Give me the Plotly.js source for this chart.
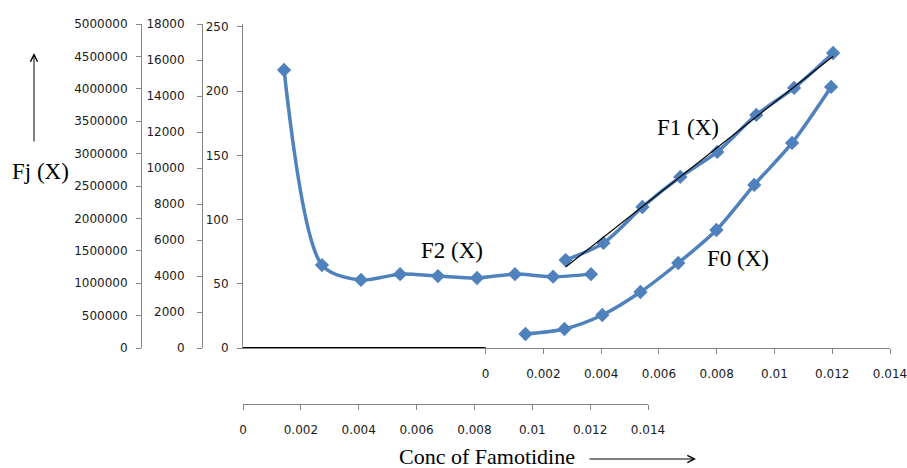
<!DOCTYPE html>
<html><head><meta charset="utf-8">
<script src="https://cdn.plot.ly/plotly-3.0.1.min.js"></script>
<style>body{margin:0;background:#fff}</style>
</head><body><div id="chart" style="width:907px;height:468px"></div>
<script>
// F0 (X) and F1 (X): upper concentration axis, 0-250 axis
const f0X = [0.00138, 0.00273, 0.00404, 0.00536, 0.00667, 0.00799, 0.0093, 0.01061, 0.01196];
const f0Y = [10.9, 14.8, 25.7, 43.6, 66.2, 91.9, 127, 159.7, 203.3];
const f1X = [0.00277, 0.00408, 0.00543, 0.00674, 0.00802, 0.00937, 0.01068, 0.01203];
const f1Y = [68.5, 81.8, 109.8, 133.2, 152.7, 181.5, 202.5, 229.7];
// F2 (X): lower concentration axis, 0-5000000 axis
const f2X = [0.00142, 0.00273, 0.00408, 0.00543, 0.00674, 0.00809, 0.0094, 0.01072, 0.01203];
const f2Y = [4290000, 1280000, 1050000, 1140000, 1110000, 1080000, 1140000, 1100000, 1140000];

const xTickVals = [0, 0.002, 0.004, 0.006, 0.008, 0.01, 0.012, 0.014];
const xTickText = ['0', '0.002', '0.004', '0.006', '0.008', '0.01', '0.012', '0.014'];
const yTicksC = [0, 50, 100, 150, 200, 250];
const yTicksB = [0, 2000, 4000, 6000, 8000, 10000, 12000, 14000, 16000, 18000];
const yTicksA = [0, 500000, 1000000, 1500000, 2000000, 2500000, 3000000, 3500000, 4000000, 4500000, 5000000];

// linear trendline for F1
const n = f1X.length;
const mx = f1X.reduce((a, b) => a + b, 0) / n;
const my = f1Y.reduce((a, b) => a + b, 0) / n;
let sxy = 0, sxx = 0;
for (let i = 0; i < n; i++) { sxy += (f1X[i] - mx) * (f1Y[i] - my); sxx += (f1X[i] - mx) ** 2; }
const slope = sxy / sxx, icpt = my - slope * mx;
const trendX = [f1X[0], f1X[n - 1]];
const trendY = trendX.map(x => icpt + slope * x);

const blue = '#4F81BD';
const W = 907, H = 468, L = 141, R = 17, T = 24, B = 64;
const PW = W - L - R, PH = H - T - B;
const px = v => (v - L) / PW;
const py = v => (H - B - v) / PH;

const lineStyle = {color: blue, width: 3.5, shape: 'spline', smoothing: 0.8};
const markerStyle = {symbol: 'diamond', size: 11, color: blue};

const traces = [
  {x: f0X, y: f0Y, name: 'F0 (X)', mode: 'lines+markers', line: lineStyle, marker: markerStyle, xaxis: 'x', yaxis: 'y'},
  {x: f1X, y: f1Y, name: 'F1 (X)', mode: 'lines+markers', line: lineStyle, marker: markerStyle, xaxis: 'x', yaxis: 'y'},
  {x: trendX, y: trendY, name: 'Linear (F1)', mode: 'lines', line: {color: '#000', width: 1.2}, xaxis: 'x', yaxis: 'y'},
  {x: [], y: [], name: '', mode: 'lines', xaxis: 'x', yaxis: 'y2'},
  {x: f2X, y: f2Y, name: 'F2 (X)', mode: 'lines+markers', line: lineStyle, marker: markerStyle, xaxis: 'x2', yaxis: 'y3'}
];

const tickFont = {family: 'DejaVu Sans, sans-serif', size: 12, color: '#1a1a1a'};
const axGray = '#868686';
const yDom = [py(348), 1];
const xRange = [-0.0084, 0.014];

const common = {showgrid: false, zeroline: false, showline: true, linecolor: axGray, linewidth: 1,
  ticks: 'outside', ticklen: 5, tickcolor: axGray, tickfont: tickFont, ticklabeloverflow: 'allow'};

const annFont = {family: 'Liberation Serif, serif', size: 23, color: '#000'};
const label = (x, y, text, size) => ({xref: 'paper', yref: 'paper', x: px(x), y: py(y), xanchor: 'center', yanchor: 'middle',
  text: text, showarrow: false, font: Object.assign({}, annFont, {size: size})});

const layout = {
  width: W, height: H,
  margin: {l: L, r: R, t: T, b: B, autoexpand: false},
  paper_bgcolor: '#fff', plot_bgcolor: 'rgba(0,0,0,0)',
  showlegend: false,
  xaxis: Object.assign({}, common, {domain: [px(243), 1], range: xRange, anchor: 'y',
    tickvals: xTickVals, ticktext: xTickText, ticklabelstandoff: 10}),
  xaxis2: Object.assign({}, common, {domain: [px(243), px(648)], range: [0, 0.014], anchor: 'free', position: 0,
    tickvals: xTickVals, ticktext: xTickText, ticklabelstandoff: 10}),
  yaxis: Object.assign({}, common, {domain: yDom, range: [0, 252.3], anchor: 'x',
    tickvals: yTicksC, ticklabelstandoff: 6}),
  yaxis2: Object.assign({}, common, {domain: yDom, range: [0, 18000], overlaying: 'y', anchor: 'free', position: px(202),
    tickvals: yTicksB, tickformat: 'd', ticklabelstandoff: 10}),
  yaxis3: Object.assign({}, common, {domain: yDom, range: [0, 5000000], overlaying: 'y', anchor: 'free', position: 0,
    tickvals: yTicksA, tickformat: 'd', ticklabelstandoff: 6}),
  shapes: [
    {type: 'line', xref: 'x', yref: 'y', x0: xRange[0], x1: 0, y0: 0, y1: 0, line: {color: '#000', width: 2}, layer: 'above'}
  ],
  annotations: [
    label(452, 250, 'F2 (X)', 23),
    label(688, 128, 'F1 (X)', 23),
    label(738, 258, 'F0 (X)', 23),
    label(40, 171, 'Fj (X)', 23),
    label(487, 457, 'Conc of Famotidine', 22),
    {xref: 'paper', yref: 'paper', x: px(34), y: py(53), text: '', showarrow: true, ax: 0, ay: 90, arrowhead: 5, arrowsize: 1.4, arrowwidth: 1, arrowcolor: '#000'},
    {xref: 'paper', yref: 'paper', x: px(696), y: py(459), text: '', showarrow: true, ax: -108, ay: 0, arrowhead: 5, arrowsize: 1.4, arrowwidth: 1, arrowcolor: '#000'}
  ]
};

Plotly.newPlot('chart', traces, layout, {displayModeBar: false, staticPlot: true});
</script></body></html>
